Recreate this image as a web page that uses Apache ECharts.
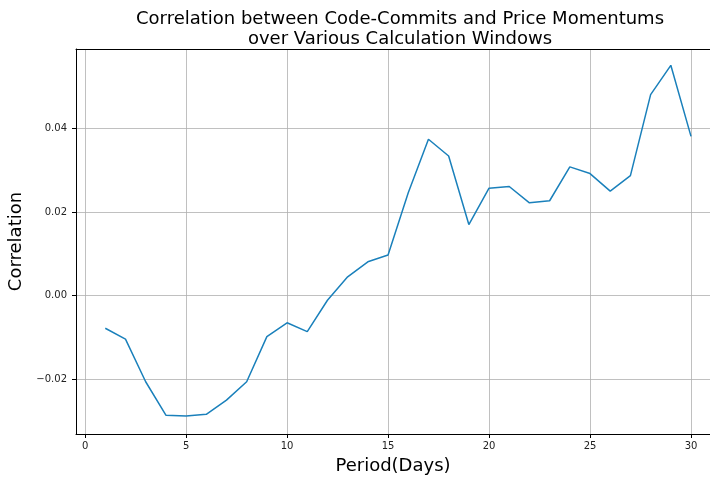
<!DOCTYPE html>
<html>
<head>
<meta charset="utf-8">
<script src="https://cdn.jsdelivr.net/npm/echarts@6/dist/echarts.min.js"></script>
<style>
  html, body { margin: 0; padding: 0; background: #fff; }
  #chart { width: 710px; height: 478px; }
</style>
</head>
<body>
<div id="chart"></div>
<script>
// periods (days) and correlation values
const periods = [1, 2, 3, 4, 5, 6, 7, 8, 9, 10, 11, 12, 13, 14, 15,
  16, 17, 18, 19, 20, 21, 22, 23, 24, 25, 26, 27, 28, 29, 30];
const correlation = [-0.0078, -0.0104, -0.0206, -0.0286, -0.0288, -0.0284, -0.0250, -0.0206, -0.0098, -0.0065,
  -0.0086, -0.0011, 0.0045, 0.0081, 0.0097, 0.0246, 0.0374, 0.0334, 0.0170, 0.0257,
  0.0261, 0.0222, 0.0227, 0.0308, 0.0292, 0.0250, 0.0287, 0.0481, 0.0551, 0.0381];
const xTicks = [0, 5, 10, 15, 20, 25, 30];
const yTicks = [-0.02, 0.00, 0.02, 0.04];

const font = 'DejaVu Sans';
let chart = echarts.init(document.getElementById('chart'));

// the original figure is cut at the right edge, so the x range stops before the right spine
const xMin = -0.45, xMax = 30.94;

let option = {
  animation: false,
  backgroundColor: '#fff',
  title: {
    text: 'Correlation between Code-Commits and Price Momentums\nover Various Calculation Windows',
    left: 395,
    top: 4,
    textAlign: 'center',
    textStyle: { fontFamily: font, fontSize: 18, fontWeight: 'normal', color: '#000', lineHeight: 20 }
  },
  grid: { left: 76, right: 0, top: 49, bottom: 44, outerBoundsMode: 'none' },
  xAxis: [{
    type: 'value',
    min: xMin,
    max: xMax,
    name: 'Period(Days)',
    nameLocation: 'middle',
    nameGap: 23,
    nameTextStyle: { fontFamily: font, fontSize: 18, color: '#000' },
    axisLine: { onZero: false, lineStyle: { color: '#000', width: 1 } },
    axisTick: { show: true, length: 4, lineStyle: { color: '#000' }, customValues: xTicks },
    axisLabel: { fontFamily: font, fontSize: 10, color: '#222', margin: 7, customValues: xTicks },
    splitLine: { show: true, lineStyle: { color: '#b0b0b0', width: 0.8 } }
  }, {
    // top spine only
    type: 'value',
    position: 'top',
    min: xMin,
    max: xMax,
    axisLine: { show: true, onZero: false, lineStyle: { color: '#000', width: 1 } },
    axisTick: { show: false },
    axisLabel: { show: false },
    splitLine: { show: false }
  }],
  yAxis: {
    type: 'value',
    min: -0.0331,
    max: 0.059,
    name: 'Correlation',
    nameLocation: 'middle',
    nameGap: 42,
    nameTextStyle: { fontFamily: font, fontSize: 18, color: '#000' },
    axisLine: { show: true, onZero: false, lineStyle: { color: '#000', width: 1 } },
    axisTick: { show: true, length: 4, lineStyle: { color: '#000' }, customValues: yTicks },
    axisLabel: {
      fontFamily: font, fontSize: 10, color: '#222', margin: 9, customValues: yTicks,
      formatter: v => v.toFixed(2).replace('-', '\u2212')
    },
    splitLine: { show: true, lineStyle: { color: '#b0b0b0', width: 0.8 } }
  },
  series: [{
    type: 'line',
    xAxisIndex: 0,
    data: periods.map((p, i) => [p, correlation[i]]),
    showSymbol: false,
    lineStyle: { color: '#1a80bb', width: 1.5 },
    itemStyle: { color: '#1a80bb' }
  }]
};
chart.setOption(option);
</script>
</body>
</html>
